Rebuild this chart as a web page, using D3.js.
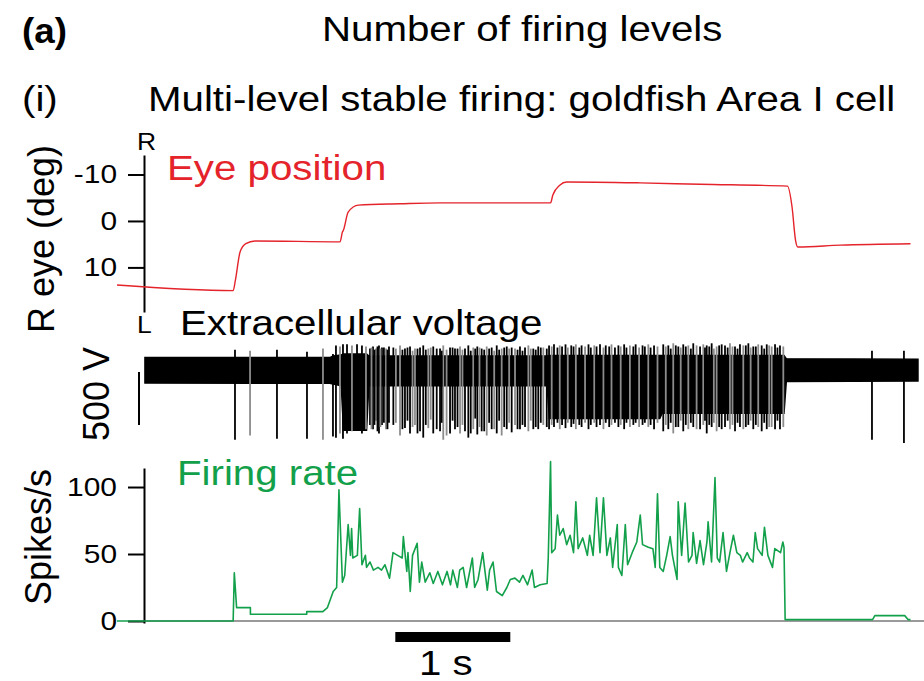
<!DOCTYPE html>
<html><head><meta charset="utf-8">
<script src="https://cdn.jsdelivr.net/npm/d3@7"></script>
<style>
body{margin:0;background:#fff}
svg{display:block}
text{font-family:"Liberation Sans",Arial,Helvetica,sans-serif}
</style>
</head><body>
<svg id="chart" width="924" height="681"></svg>
<script>
// ---------------- data (time in seconds) ----------------
const eyeTime = [0,1.01,1.03,1.07,1.12,1.20,1.94,1.96,1.97,2.01,2.10,2.46,2.81,3.77,3.79,3.85,3.91,4.55,5.07,5.83,5.87,5.90,5.92,6.29,6.90];
const eyeDeg  = [13.8,15.0,12.7,6.7,4.9,4.3,4.5,2.4,1.9,-1.9,-3.4,-3.7,-3.9,-3.9,-5.6,-7.7,-8.4,-8.2,-7.9,-7.5,-3.0,4.1,5.6,5.2,4.9];
const eyeTicks = [-10,0,10];

const rateTime = [0,1.01,1.02,1.04,1.16,1.16,1.65,1.65,1.79,1.83,1.88,1.91,1.93,1.96,1.98,2.01,2.03,2.04,2.05,2.09,2.11,2.13,2.16,2.17,2.20,2.23,2.27,2.30,2.33,2.37,2.40,2.44,2.48,2.49,2.52,2.53,2.55,2.57,2.61,2.63,2.65,2.68,2.72,2.75,2.79,2.83,2.87,2.90,2.92,2.96,2.98,3.01,3.04,3.09,3.11,3.14,3.18,3.22,3.24,3.27,3.30,3.35,3.39,3.42,3.46,3.50,3.53,3.57,3.61,3.63,3.68,3.74,3.75,3.77,3.78,3.81,3.83,3.85,3.88,3.91,3.94,3.97,3.99,4.01,4.05,4.09,4.11,4.14,4.17,4.20,4.23,4.26,4.29,4.31,4.35,4.36,4.39,4.42,4.44,4.48,4.52,4.55,4.57,4.62,4.66,4.68,4.70,4.72,4.75,4.78,4.81,4.83,4.87,4.88,4.91,4.94,4.97,5.00,5.01,5.04,5.07,5.10,5.13,5.14,5.17,5.20,5.22,5.24,5.27,5.30,5.33,5.36,5.39,5.42,5.44,5.48,5.50,5.53,5.55,5.57,5.61,5.63,5.66,5.70,5.72,5.77,5.79,5.80,5.81,6.57,6.59,6.85,6.88,6.90];
const rateValue = [0,0,36,10,10,5,5,7,7,10,22,25,98,29,34,72,49,69,47,49,84,42,49,40,44,38,40,38,42,32,51,49,47,63,37,51,22,49,58,29,44,29,36,28,37,27,37,27,38,25,38,40,25,47,25,31,51,23,38,44,22,19,25,31,32,29,34,27,38,25,27,28,47,119,51,54,79,64,69,57,64,51,89,54,62,49,64,49,92,51,92,49,62,40,72,40,34,72,42,51,59,79,57,55,54,40,95,40,37,49,63,49,31,89,49,88,44,49,66,43,60,42,59,74,44,107,47,44,66,37,51,64,51,49,44,51,47,44,66,54,49,70,49,40,54,51,59,55,1,1,4,4,1,1];
const rateTicks = [0,50,100];

// extracellular voltage (µV): noise-band envelope and individual spikes
const bandTime = [0.243,1.85,1.88,1.95,1.97,2.17,2.19,3.74,3.76,4.72,4.74,5.80,5.82,6.965];
const bandHigh = [115,115,130,140,150,150,130,130,135,135,135,135,105,100];
const bandLow  = [-125,-128,-135,-150,-570,-570,-150,-150,-460,-460,-410,-410,-110,-105];

const spikeTime = [1.026,1.157,1.391,1.652,1.791,1.878,1.904,1.939,1.965,2.0,2.043,2.087,2.13,2.165,2.2,2.226,2.252,2.278,2.304,2.339,2.365,
 2.403,2.461,2.504,2.548,2.591,2.635,2.663,2.707,2.75,2.809,2.837,2.896,2.939,2.983,3.026,3.055,3.098,3.133,3.171,3.215,3.258,3.302,3.345,3.389,3.432,3.461,3.504,3.548,3.577,3.62,3.663,3.707,3.737,
 3.757,3.78,3.80,3.83,3.85,3.87,3.90,3.92,3.95,3.97,3.99,4.02,4.04,4.07,4.10,4.12,4.15,4.17,4.20,4.23,4.25,4.28,4.30,4.33,4.36,4.38,4.41,4.43,4.46,4.49,4.51,4.54,4.57,4.59,4.62,4.64,4.67,4.70,
 4.75,4.794,4.837,4.881,4.924,4.968,5.011,5.07,5.098,5.128,5.171,5.214,5.258,5.287,5.33,5.374,5.417,5.446,5.49,5.533,5.576,5.606,5.65,5.693,5.722,5.765,5.794,
 6.565,6.843,
 2.213,2.239,2.265,2.291,2.321,2.352,
 2.425,2.482,2.526,2.57,2.613,2.685,2.728,2.78,2.823,2.866,2.918,2.961,3.004,3.076,3.115,3.152,3.193,3.236,3.28,3.323,3.367,3.41,3.483,3.526,3.598,3.641,3.685,
 4.772,4.815,4.859,4.902,4.946,4.99,5.04,5.113,5.15,5.19,5.236,5.31,5.352,5.396,5.468,5.51,5.555,5.628,5.671,5.743];
const spikeUp = [190,180,190,170,200,150,230,220,240,240,230,240,230,220,200,220,200,230,210,200,220,
 210,230,200,220,200,210,230,200,220,200,230,210,200,220,200,230,210,220,200,220,210,230,200,220,210,200,220,210,230,200,220,210,200,
 230,220,240,210,230,220,240,210,230,220,240,210,230,220,240,210,230,220,240,210,230,220,240,210,230,220,240,210,230,220,240,210,230,220,240,210,230,220,
 240,230,250,220,240,230,250,220,240,230,250,220,240,230,250,220,240,230,250,220,240,230,240,220,240,230,220,
 180,180,
 210,190,220,200,210,190,
 200,190,210,180,200,190,210,200,180,190,210,200,190,180,200,210,190,200,180,190,210,200,190,180,200,190,210,
 220,200,230,210,220,200,230,210,220,200,230,210,220,200,230,210,220,200,230,210];
const spikeDown = [-660,-620,-650,-650,-660,-630,-640,-600,-650,-600,-580,-570,-600,-560,-520,-560,-480,-600,-520,-560,-500,
 -520,-620,-550,-600,-520,-580,-640,-550,-600,-580,-660,-600,-560,-600,-580,-640,-560,-610,-580,-620,-560,-600,-620,-560,-590,-520,-560,-540,-580,-560,-560,-520,-540,
 -560,-520,-540,-500,-560,-520,-550,-500,-540,-510,-560,-520,-540,-500,-560,-520,-500,-540,-520,-560,-500,-540,-520,-500,-540,-520,-560,-500,-540,-520,-500,-540,-520,-500,-540,-520,-560,-500,
 -580,-560,-600,-540,-580,-560,-540,-560,-520,-600,-540,-580,-560,-540,-560,-580,-540,-560,-520,-560,-540,-580,-560,-540,-560,-560,-540,
 -660,-690,
 -560,-520,-580,-540,-500,-560,
 -500,-560,-480,-540,-600,-520,-470,-560,-500,-620,-480,-540,-520,-600,-460,-540,-580,-500,-560,-480,-540,-500,-560,-520,-480,-540,-500,
 -520,-500,-540,-480,-520,-500,-560,-480,-520,-500,-540,-480,-520,-500,-540,-480,-520,-500,-540,-480];

const scaleBarStart = 2.42, scaleBarSeconds = 1;   // "1 s" bar
const voltBarTop = -20, voltBarMicroV = 500;       // "500 V" bar

// ---------------- drawing ----------------
const svg = d3.select("#chart");
const RED = "#e4232b", GREEN = "#13a04b";
const STRETCH = 1.15;

const x = d3.scaleLinear([0, 7], [117, 922]);
const yEye = d3.scaleLinear([-14.2, 19.6], [155, 312]);
const yV = d3.scaleLinear([-700, 300], [444, 338]);
const yRate = d3.scaleLinear([-1.5, 114.2], [623, 468]);

function stretch(sel, k) {
  sel.each(function () {
    const L = this.getComputedTextLength();
    d3.select(this).attr("textLength", L * k).attr("lengthAdjust", "spacingAndGlyphs");
  });
  return sel;
}
function label(txt, px, py, size, opts = {}) {
  const t = svg.append("text").attr("x", px).attr("y", py)
    .attr("font-size", size).attr("fill", opts.fill || "#000")
    .attr("font-weight", opts.bold ? "bold" : "normal")
    .attr("text-anchor", opts.anchor || "start").text(txt);
  stretch(t, opts.k || STRETCH);
  return t;
}
function vlabel(txt, px, py, size) {
  svg.append("text").attr("transform", `translate(${px},${py}) rotate(-90)`)
    .attr("font-size", size).attr("text-anchor", "middle").text(txt);
}

// titles
label("(a)", 22, 43, 35, {bold: true, k: 1.05});
label("Number of firing levels", 322, 41, 35);
label("(i)", 22, 111, 35);
label("Multi-level stable firing: goldfish Area I cell", 148, 111, 35);

function styleAxis(g) {
  g.select(".domain").attr("stroke", "#000").attr("stroke-width", 2);
  g.selectAll(".tick line").attr("stroke", "#000").attr("stroke-width", 2);
  g.selectAll(".tick text").attr("font-size", 26).attr("fill", "#000")
    .attr("font-family", '"Liberation Sans",Arial,sans-serif');
  stretch(g.selectAll(".tick text"), 1.15);
}

// ---- Eye position panel ----
const eyeAxis = svg.append("g").attr("transform", "translate(144,0)")
  .call(d3.axisLeft(yEye).tickValues(eyeTicks).tickFormat(d => String(d))
    .tickSize(16).tickSizeOuter(0).tickPadding(11));
styleAxis(eyeAxis);
label("R", 137, 150, 23);
label("L", 137, 333, 23);
label("Eye position", 167, 180, 35, {fill: RED});
vlabel("R eye (deg)", 54, 239, 36);

const eyeData = eyeTime.map((t, i) => [t, eyeDeg[i]]);
svg.append("path").datum(eyeData)
  .attr("fill", "none").attr("stroke", RED).attr("stroke-width", 1.4)
  .attr("d", d3.line().x(d => x(d[0])).y(d => yEye(d[1])).curve(d3.curveMonotoneX));

// ---- Extracellular voltage panel ----
label("Extracellular voltage", 180, 335, 35);
const band = bandTime.map((t, i) => [t, bandHigh[i], bandLow[i]]);
svg.append("path").datum(band)
  .attr("fill", "#000").attr("stroke", "#000").attr("stroke-width", 1.5)
  .attr("d", d3.area().x(d => x(d[0])).y0(d => yV(d[2])).y1(d => yV(d[1])));
svg.append("g").selectAll("line").data(spikeTime).join("line")
  .attr("x1", d => x(d)).attr("x2", d => x(d))
  .attr("y1", (d, i) => yV(spikeUp[i])).attr("y2", (d, i) => yV(spikeDown[i]))
  .attr("stroke", (d, i) => i % 3 === 1 ? "#8c8c8c" : "#000")
  .attr("stroke-width", 1.8);
// voltage scale bar
svg.append("line").attr("x1", 139).attr("x2", 139)
  .attr("y1", yV(voltBarTop)).attr("y2", yV(voltBarTop - voltBarMicroV))
  .attr("stroke", "#000").attr("stroke-width", 2);
vlabel("500 V", 109, 394, 36);

// ---- Firing rate panel ----
svg.append("line").attr("x1", 144).attr("x2", 924)
  .attr("y1", yRate(0)).attr("y2", yRate(0))
  .attr("stroke", "#9a9a9a").attr("stroke-width", 2);
const rateAxis = svg.append("g").attr("transform", "translate(144,0)")
  .call(d3.axisLeft(yRate).tickValues(rateTicks).tickFormat(d => String(d))
    .tickSize(16).tickSizeOuter(0).tickPadding(11));
styleAxis(rateAxis);
label("Firing rate", 177, 485, 35, {fill: GREEN});
vlabel("Spikes/s", 51, 537, 36);

const rateData = rateTime.map((t, i) => [t, rateValue[i]]);
svg.append("path").datum(rateData)
  .attr("fill", "none").attr("stroke", GREEN).attr("stroke-width", 1.6)
  .attr("stroke-linejoin", "round")
  .attr("d", d3.line().x(d => x(d[0])).y(d => yRate(d[1])));

// time scale bar
svg.append("rect").attr("x", x(scaleBarStart)).attr("y", 632)
  .attr("width", x(scaleBarStart + scaleBarSeconds) - x(scaleBarStart)).attr("height", 10)
  .attr("fill", "#000");
label("1 s", 419, 675, 35);
</script>
</body></html>
